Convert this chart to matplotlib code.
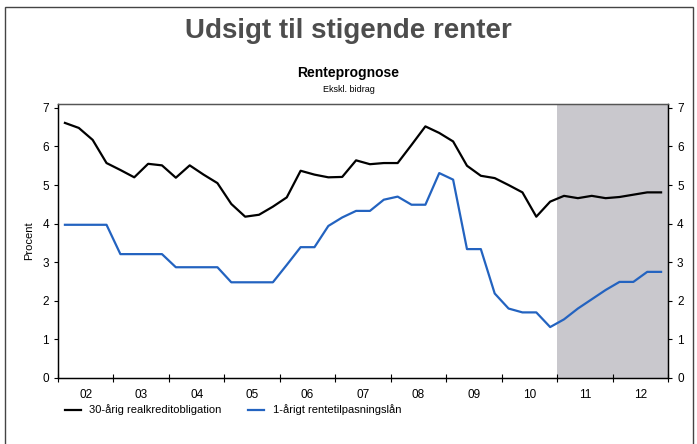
import numpy as np
import matplotlib
matplotlib.use("Agg")
import matplotlib.pyplot as plt
from matplotlib.patches import Rectangle

plt.rcParams['font.family'] = ['Liberation Sans', 'DejaVu Sans']

# Quarterly data, 2002Q1 - 2012Q4
start_year = 2002
years = ['02', '03', '04', '05', '06', '07', '08', '09', '10', '11', '12']
forecast_start = 2011

realkredit_30 = [
    6.61, 6.48, 6.17, 5.57,
    5.39, 5.20, 5.55, 5.51,
    5.19, 5.51, 5.27, 5.05,
    4.51, 4.18, 4.23, 4.44,
    4.68, 5.37, 5.27, 5.20,
    5.21, 5.64, 5.54, 5.57,
    5.57, 6.04, 6.52, 6.35,
    6.13, 5.50, 5.24, 5.18,
    5.00, 4.81, 4.18, 4.57,
    4.72, 4.66, 4.72, 4.66,
    4.69, 4.75, 4.81, 4.81,
]
rentetilpasning_1 = [
    3.97, 3.97, 3.97, 3.97,
    3.21, 3.21, 3.21, 3.21,
    2.87, 2.87, 2.87, 2.87,
    2.48, 2.48, 2.48, 2.48,
    2.93, 3.39, 3.39, 3.94,
    4.16, 4.33, 4.33, 4.62,
    4.70, 4.49, 4.49, 5.31,
    5.14, 3.34, 3.34, 2.19,
    1.80, 1.70, 1.70, 1.32,
    1.52, 1.80, 2.04, 2.28,
    2.49, 2.49, 2.75, 2.75,
]

def main():
    W, H = 697, 444
    fig = plt.figure(figsize=(W / 100, H / 100), dpi=100)

    # outer frame
    fig.patches.append(Rectangle((5 / W, -0.05), 688 / W, 1.05 - 7 / H,
                                 transform=fig.transFigure, fill=False,
                                 edgecolor='#444444', linewidth=1.0))

    fig.text(0.5, 1 - 31 / H, 'Udsigt til stigende renter', ha='center', va='center',
             fontsize=20, fontweight='bold', color='#4d4d4d')
    fig.text(0.5, 1 - 73 / H, 'Renteprognose', ha='center', va='center',
             fontsize=10, fontweight='bold', color='black')
    fig.text(0.5, 1 - 89 / H, 'Ekskl. bidrag', ha='center', va='center',
             fontsize=6.5, color='black')

    left, right, top, bottom = 58, 668, 104, 378
    ax = fig.add_axes([left / W, 1 - bottom / H, (right - left) / W, (bottom - top) / H])

    n = len(realkredit_30)
    x = start_year + (np.arange(n) + 0.5) / 4.0

    ax.axvspan(forecast_start, start_year + len(years), color='#c9c8cd', lw=0, zorder=0)
    ax.plot(x, realkredit_30, color='black', lw=1.6, label='30-årig realkreditobligation')
    ax.plot(x, rentetilpasning_1, color='#2363c0', lw=1.6, label='1-årigt rentetilpasningslån')

    ax.set_xlim(start_year, start_year + len(years))
    ax.set_ylim(0, 7.1)

    ax.set_xticks(np.arange(start_year, start_year + len(years) + 1))
    ax.set_xticklabels([])
    ax.set_xticks(start_year + np.arange(len(years)) + 0.5, minor=True)
    ax.set_xticklabels(years, minor=True)
    ax.tick_params(axis='x', which='major', direction='inout', length=6, width=0.8)
    ax.tick_params(axis='x', which='minor', length=0, pad=8, labelsize=8.5)

    ax.set_yticks(range(0, 8))
    ax.tick_params(axis='y', direction='out', length=3, labelsize=8.5, width=0.8)
    ax.set_ylabel('Procent', fontsize=8, labelpad=6)

    ax2 = ax.twinx()
    ax2.set_ylim(ax.get_ylim())
    ax2.set_yticks(range(0, 8))
    ax2.tick_params(axis='y', direction='out', length=3, labelsize=8.5, width=0.8)

    for a in (ax, ax2):
        for s in a.spines.values():
            s.set_linewidth(0.9)
        a.spines['top'].set_color('#555555')

    ax.legend(loc='center left', bbox_to_anchor=(55 / W, 1 - 410 / H),
              bbox_transform=fig.transFigure, ncol=2, frameon=False,
              fontsize=8, handlelength=1.4, columnspacing=2.4, handletextpad=0.8)

    fig.savefig('out.png', dpi=100)

if __name__ == "__main__":
    main()
